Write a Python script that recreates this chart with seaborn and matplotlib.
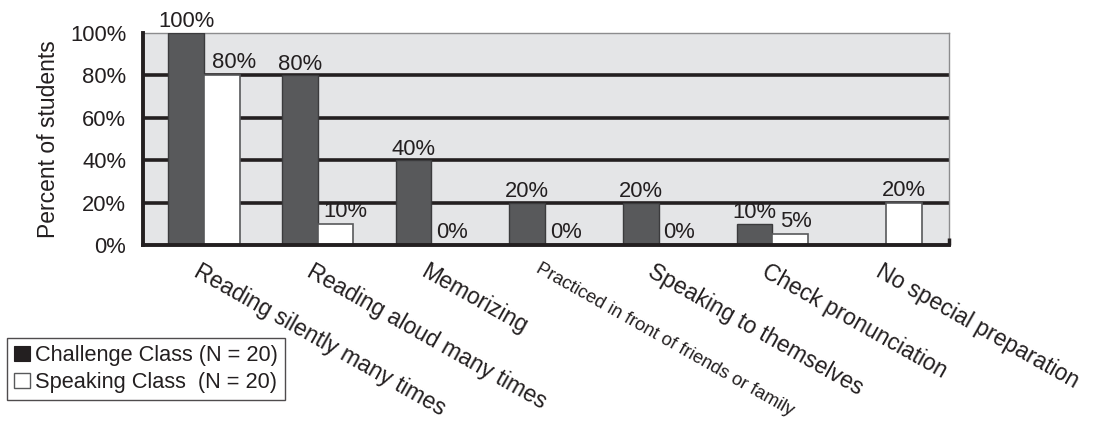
import matplotlib
matplotlib.use("Agg")
import matplotlib.pyplot as plt
from matplotlib.patches import Patch
from matplotlib.transforms import ScaledTranslation
import pandas as pd
import seaborn as sns

# Preparation strategies reported by students
categories = [
    "Reading silently many times",
    "Reading aloud many times",
    "Memorizing",
    "Practiced in front of friends or family",
    "Speaking to themselves",
    "Check pronunciation",
    "No special preparation",
]
groups = ["Challenge Class (N = 20)", "Speaking Class  (N = 20)"]
challenge = [100, 80, 40, 20, 20, 10, 0]
speaking = [80, 10, 0, 0, 0, 5, 20]
challenge_labelled = [True, True, True, True, True, True, False]
speaking_labelled = [True, True, True, True, True, True, True]
y_ticks = [0, 20, 40, 60, 80, 100]

df = pd.DataFrame({
    "strategy": categories * 2,
    "group": [groups[0]] * len(categories) + [groups[1]] * len(categories),
    "percent": challenge + speaking,
})

sns.set_theme(style="white")
plt.rcParams["font.family"] = ["Liberation Sans", "DejaVu Sans"]
ink = "#231f20"
dark = "#58595b"

fig = plt.figure(figsize=(10.96, 4.23), dpi=100)
ax = fig.add_axes([143 / 1096, 1 - 245 / 423, (949 - 143) / 1096, (245 - 33) / 423])

sns.barplot(
    data=df, x="strategy", y="percent", hue="group", order=categories,
    hue_order=groups, palette={groups[0]: dark, groups[1]: "white"},
    width=0.63, legend=False, ax=ax, zorder=3,
)

n = len(categories)
dark_bars = ax.patches[:n]
white_bars = ax.patches[n:2 * n]
for b in dark_bars:
    b.set_edgecolor("#3b3b3d")
    b.set_linewidth(1.0)
for b in white_bars:
    b.set_edgecolor(dark)
    b.set_linewidth(1.2)

# value labels above each bar
label_dx = [0, 0, 0, 0, 0, 0, 0]
white_dx = [9, 7, 2, 2, 2, 4, 0]
for b, v, show, dx in zip(dark_bars, challenge, challenge_labelled, label_dx):
    if show:
        ax.annotate(f"{v}%", (b.get_x() + b.get_width() / 2, v), xytext=(dx, 4),
                    textcoords="offset points", ha="center", va="baseline",
                    fontsize=15.8, color=ink, zorder=5, annotation_clip=False)
for b, v, show, dx in zip(white_bars, speaking, speaking_labelled, white_dx):
    if show:
        ax.annotate(f"{v}%", (b.get_x() + b.get_width() / 2, v), xytext=(dx, 5),
                    textcoords="offset points", ha="center", va="baseline",
                    fontsize=15.8, color=ink, zorder=5, annotation_clip=False)

ax.set_facecolor("#e4e5e7")
ax.set_ylim(0, 100)
ax.set_xlim(-0.536, 6.553)
ax.set_yticks(y_ticks)
ax.set_yticklabels([f"{t}%" for t in y_ticks], fontsize=15.8, color=ink)
ax.set_ylabel("Percent of students", fontsize=16.5, color=ink, labelpad=7)
ax.set_xlabel("")

ax.set_axisbelow(True)
ax.yaxis.grid(True, color=ink, linewidth=2.6)
ax.xaxis.grid(False)
gl = ax.yaxis.get_gridlines()
gl[0].set_visible(False)
gl[-1].set_visible(False)

ax.tick_params(axis="y", direction="in", length=7, width=2.5, color=ink, pad=12)
ax.tick_params(axis="x", length=0, pad=11)

for side in ("left", "bottom"):
    ax.spines[side].set_color(ink)
    ax.spines[side].set_linewidth(2.8)
    ax.spines[side].set_zorder(4)
for side in ("top", "right"):
    ax.spines[side].set_color("#8c8c8e")
    ax.spines[side].set_linewidth(1.0)

# small closing tick at the right end of the baseline
ax.plot([1, 1], [0, 0.035], transform=ax.transAxes, color=ink, lw=2.5,
        clip_on=False, zorder=5, solid_capstyle="butt")

# rotated category labels
ax.set_xticks(range(n))
ax.set_xticklabels(categories, rotation=-29.5, ha="left", va="top",
                   rotation_mode="anchor", fontsize=16.5, color=ink)
for i, lab in enumerate(ax.get_xticklabels()):
    dx = -3
    if i == 3:
        lab.set_fontsize(13.2)
        dx = -4
    lab.set_transform(lab.get_transform() + ScaledTranslation(dx / 100, 0, fig.dpi_scale_trans))

handles = [
    Patch(facecolor=ink, edgecolor=ink, linewidth=0.8),
    Patch(facecolor="white", edgecolor="#58595b", linewidth=1.0),
]
leg = fig.legend(handles, groups, loc="lower left",
                 bbox_to_anchor=(7 / 1096, 23 / 423), bbox_transform=fig.transFigure,
                 fontsize=15.7, frameon=True, fancybox=False, handlelength=0.75,
                 handleheight=0.7, handletextpad=0.25, borderpad=0.3,
                 labelspacing=0.3, borderaxespad=0)
leg.get_frame().set_edgecolor(ink)
leg.get_frame().set_linewidth(1.0)
for t in leg.get_texts():
    t.set_color(ink)

fig.savefig("out.png", dpi=100)
